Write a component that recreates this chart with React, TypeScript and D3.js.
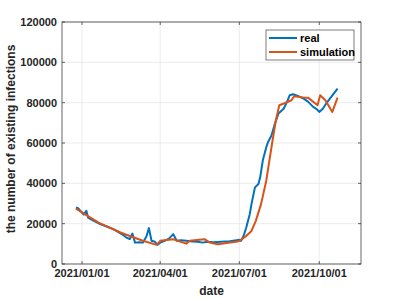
import React, { useRef, useEffect } from 'react';
import * as d3 from 'd3';

// real observed counts (date, value)
const realDates = [
  '2020-12-25', '2020-12-28', '2021-01-03', '2021-01-06', '2021-01-08', '2021-01-14', '2021-01-22',
  '2021-01-30', '2021-02-06', '2021-02-12', '2021-02-18', '2021-02-21', '2021-02-25', '2021-02-28',
  '2021-03-03', '2021-03-08', '2021-03-12', '2021-03-16', '2021-03-19', '2021-03-22', '2021-03-26',
  '2021-03-29', '2021-04-01', '2021-04-06', '2021-04-11', '2021-04-16', '2021-04-20', '2021-04-25',
  '2021-05-01', '2021-05-08', '2021-05-14', '2021-05-20', '2021-05-25', '2021-06-01', '2021-06-10',
  '2021-06-20', '2021-06-28', '2021-07-01', '2021-07-03', '2021-07-06', '2021-07-09', '2021-07-13',
  '2021-07-15', '2021-07-19', '2021-07-23', '2021-07-25', '2021-07-28', '2021-08-01', '2021-08-03',
  '2021-08-07', '2021-08-11', '2021-08-15', '2021-08-21', '2021-08-25', '2021-08-28', '2021-09-01',
  '2021-09-07', '2021-09-13', '2021-09-18', '2021-09-24', '2021-09-28', '2021-10-01', '2021-10-05',
  '2021-10-09', '2021-10-15', '2021-10-22',
];
const realValues = [
  28000, 27500, 24500, 26400, 23000, 21500, 19800,
  18500, 17300, 15800, 14200, 13100, 12400, 15100,
  10600, 10800, 10600, 13500, 17800, 11500, 11000,
  9500, 10600, 11500, 12600, 14800, 11500, 11800,
  11500, 11200, 11000, 10600, 11000, 10800, 11000,
  11300, 11800, 12000, 11500, 14000, 18100, 24700,
  29700, 38000, 39700, 43000, 51300, 57900, 60400,
  63700, 69600, 74600, 77000, 80500, 83700, 84200,
  83200, 82000, 80500, 77900, 76800, 75400, 77000,
  79600, 83000, 87000,
];

// simulated counts (date, value)
const simDates = [
  '2020-12-25', '2021-01-20', '2021-02-15', '2021-03-12', '2021-03-28', '2021-04-01', '2021-04-16',
  '2021-05-01', '2021-05-05', '2021-05-22', '2021-05-28', '2021-06-06', '2021-06-29', '2021-07-01',
  '2021-07-08', '2021-07-15', '2021-07-20', '2021-07-26', '2021-08-01', '2021-08-07', '2021-08-12',
  '2021-08-16', '2021-08-22', '2021-08-30', '2021-09-02', '2021-09-14', '2021-09-18', '2021-09-29',
  '2021-10-02', '2021-10-08', '2021-10-16', '2021-10-22',
];
const simValues = [
  27500, 20500, 15500, 11500, 9500, 11500, 12300,
  10100, 11500, 12300, 10600, 9800, 11100, 11500,
  13500, 16400, 21400, 29700, 41300, 57900, 71200,
  78700, 79700, 81200, 83200, 82500, 82500, 78700,
  83700, 81200, 75400, 82500,
];

const yTicks = [0, 20000, 40000, 60000, 80000, 100000, 120000];
const xTickLabels = ['2021/01/01', '2021/04/01', '2021/07/01', '2021/10/01'];
const seriesNames = ['real', 'simulation'];
const seriesColors = ['#0072BD', '#D95319'];

const parse = d3.timeParse('%Y-%m-%d');
const parseTick = d3.timeParse('%Y/%m/%d');

const App = () => {
  const ref = useRef<SVGSVGElement>(null);

  useEffect(() => {
    document.body.style.margin = '0';
    const svg = d3.select(ref.current);
    svg.selectAll('*').remove();

    const margin = { top: 22, right: 38, bottom: 35, left: 62 };
    const width = 399 - margin.left - margin.right;
    const height = 299 - margin.top - margin.bottom;
    const font = 'Liberation Sans, Arial, Helvetica, sans-serif';
    const ink = '#262626';

    const g = svg.append('g').attr('transform', `translate(${margin.left},${margin.top})`);

    const x = d3.scaleTime()
      .domain([parse('2020-12-09')!, parse('2021-11-18')!])
      .range([0, width]);
    const y = d3.scaleLinear().domain([0, 120000]).range([height, 0]);
    const xTicks = xTickLabels.map(s => parseTick(s)!);

    // grid
    g.append('g')
      .selectAll('line.gx')
      .data(xTicks)
      .join('line')
      .attr('x1', d => x(d)).attr('x2', d => x(d))
      .attr('y1', 0).attr('y2', height)
      .attr('stroke', '#dfdfdf').attr('stroke-width', 0.6);
    g.append('g')
      .selectAll('line.gy')
      .data(yTicks)
      .join('line')
      .attr('x1', 0).attr('x2', width)
      .attr('y1', d => y(d)).attr('y2', d => y(d))
      .attr('stroke', '#dfdfdf').attr('stroke-width', 0.6);

    // series
    const series = [
      realDates.map((d, i) => ({ date: parse(d)!, value: realValues[i] })),
      simDates.map((d, i) => ({ date: parse(d)!, value: simValues[i] })),
    ];
    const line = d3.line<{ date: Date; value: number }>()
      .x(d => x(d.date))
      .y(d => y(d.value));
    series.forEach((s, i) => {
      g.append('path')
        .datum(s)
        .attr('fill', 'none')
        .attr('stroke', seriesColors[i])
        .attr('stroke-width', 2)
        .attr('stroke-linejoin', 'round')
        .attr('d', line);
    });

    // axes box and ticks
    g.append('rect')
      .attr('width', width).attr('height', height)
      .attr('fill', 'none').attr('stroke', ink).attr('stroke-width', 0.7);

    const tl = 3;
    yTicks.forEach(v => {
      g.append('line').attr('x1', 0).attr('x2', tl).attr('y1', y(v)).attr('y2', y(v)).attr('stroke', ink).attr('stroke-width', 0.7);
      g.append('line').attr('x1', width - tl).attr('x2', width).attr('y1', y(v)).attr('y2', y(v)).attr('stroke', ink).attr('stroke-width', 0.7);
      g.append('text')
        .attr('x', -5).attr('y', y(v))
        .attr('dy', '0.35em')
        .attr('text-anchor', 'end')
        .attr('font-family', font).attr('font-size', 11).attr('font-weight', 'bold')
        .attr('fill', ink)
        .text(String(v));
    });
    xTicks.forEach((d, i) => {
      g.append('line').attr('x1', x(d)).attr('x2', x(d)).attr('y1', height).attr('y2', height - tl).attr('stroke', ink).attr('stroke-width', 0.7);
      g.append('line').attr('x1', x(d)).attr('x2', x(d)).attr('y1', 0).attr('y2', tl).attr('stroke', ink).attr('stroke-width', 0.7);
      g.append('text')
        .attr('x', x(d)).attr('y', height + 13)
        .attr('text-anchor', 'middle')
        .attr('font-family', font).attr('font-size', 11).attr('font-weight', 'bold')
        .attr('fill', ink)
        .text(xTickLabels[i]);
    });

    // axis labels
    g.append('text')
      .attr('x', width / 2).attr('y', height + 31)
      .attr('text-anchor', 'middle')
      .attr('font-family', font).attr('font-size', 12).attr('font-weight', 'bold')
      .attr('fill', ink)
      .text('date');
    g.append('text')
      .attr('transform', `translate(${-margin.left + 15},${height / 2 - 4}) rotate(-90)`)
      .attr('text-anchor', 'middle')
      .attr('font-family', font).attr('font-size', 12).attr('font-weight', 'bold')
      .attr('fill', ink)
      .text('the number of existing infections');

    // legend
    const lg = g.append('g').attr('transform', `translate(${266 - margin.left},${30 - margin.top})`);
    lg.append('rect')
      .attr('width', 88).attr('height', 30)
      .attr('fill', 'white').attr('stroke', ink).attr('stroke-width', 0.6);
    seriesNames.forEach((name, i) => {
      const cy = 8 + i * 14;
      lg.append('line')
        .attr('x1', 3).attr('x2', 31).attr('y1', cy).attr('y2', cy)
        .attr('stroke', seriesColors[i]).attr('stroke-width', 2);
      lg.append('text')
        .attr('x', 34).attr('y', cy).attr('dy', '0.35em')
        .attr('font-family', font).attr('font-size', 11).attr('font-weight', 'bold')
        .attr('fill', '#000')
        .text(name);
    });
  }, []);

  return <svg ref={ref} width={399} height={299} style={{ display: 'block', background: 'white' }} />;
};

export default App;
